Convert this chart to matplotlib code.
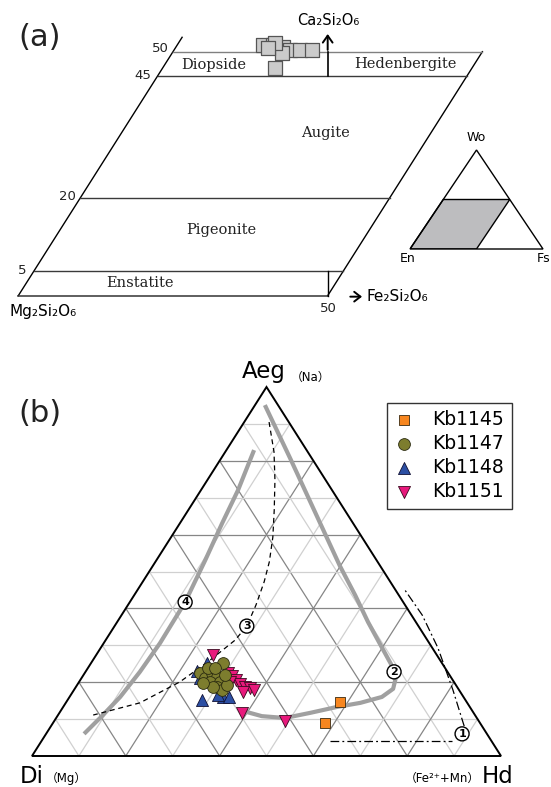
import matplotlib
matplotlib.use("Agg")
import matplotlib.pyplot as plt
from matplotlib.patches import Polygon
import numpy as np

plt.rcParams["font.family"] = ["DejaVu Sans", "Noto Sans CJK SC"]

W, H = 551, 787

# ---------------- (a) pyroxene quadrilateral ----------------
# Wo (mol%) and Fs (mol%) of the analysed pyroxenes
quad_wo = [51.4, 51.4, 51.0, 50.4, 50.4, 50.4, 49.7, 51.8, 50.8, 46.7]
quad_fs = [13.9, 15.5, 17.3, 18.7, 20.4, 22.3, 17.8, 15.6, 15.0, 18.2]
wo_levels = [5, 20, 45, 50]
fs_max = 50

# ---------------- (b) Aeg-Di-Hd ternary (mol%) ----------------
kb1145_aeg = [14.6, 8.9]
kb1145_hd = [58.4, 58.0]

kb1147_aeg = [25.2, 22.5, 21.1, 22.5, 21.4, 20.1, 20.1, 18.7, 17.9, 19.2, 18.7, 19.8, 23.8, 23.8, 22.0]
kb1147_hd = [28.1, 24.6, 26.4, 27.1, 28.7, 27.9, 30.0, 30.1, 31.6, 32.0, 29.3, 26.6, 25.6, 27.1, 30.2]

kb1148_aeg = [25.2, 15.2, 16.0, 16.5, 16.0, 23.0, 21.1]
kb1148_hd = [24.7, 28.6, 32.7, 31.4, 34.0, 23.7, 25.2]

kb1151_aeg = [27.4, 22.5, 21.7, 20.6, 19.5, 18.7, 18.4, 17.3, 17.9, 20.1, 11.7, 9.5]
kb1151_hd = [24.9, 30.6, 31.8, 33.2, 34.6, 36.1, 37.3, 36.4, 38.4, 32.2, 39.0, 49.2]

# reference trends (Aeg, Hd)
trend1_h_aeg = [4.1, 4.1]
trend1_h_hd = [61.5, 87.5]
trend1_v_aeg = [8.1, 17.9, 29.3, 38.2, 45.0]
trend1_v_hd = [88.1, 80.8, 71.9, 64.1, 57.0]

trend2_aeg = [95.1, 80.8, 66.1, 51.5, 43.6, 36.3, 29.3, 24.9, 21.1, 18.2, 16.0,
              14.4, 13.3, 11.7, 10.3, 10.8, 12.2]
trend2_hd = [2.1, 14.6, 27.3, 39.9, 47.1, 53.5, 60.0, 64.1, 67.0, 67.9, 66.6,
             62.8, 58.4, 53.5, 48.8, 43.6, 38.9]

trend3_aeg = [90.5, 82.4, 74.8, 66.7, 59.3, 52.6, 47.2, 40.9, 35.2, 31.4, 26.0, 20.1, 14.4, 11.1]
trend3_hd = [5.3, 10.4, 14.4, 18.3, 21.7, 24.3, 25.9, 27.3, 28.2, 27.6, 25.0, 21.5, 15.8, 7.5]

trend4_aeg = [6.0, 10.8, 16.0, 22.8, 30.6, 41.7, 53.1, 63.1, 72.1, 82.9]
trend4_hd = [8.1, 9.5, 10.8, 11.6, 12.0, 11.8, 10.4, 9.0, 7.9, 5.9]

trend_labels = ["1", "2", "3", "4"]
trend_label_aeg = [6.0, 22.8, 35.2, 41.7]
trend_label_hd = [88.7, 65.8, 28.2, 11.8]

fig = plt.figure(figsize=(W / 100, H / 100), dpi=100)


def fpos(x, y):
    return x / W, 1 - y / H


# ======== panel (a) ========
ax_a = fig.add_axes([0, 1 - 330 / H, 1, 330 / H])
ax_a.set_xlim(-2.957, 86.09)
ax_a.set_ylim(-7.03, 60.59)
ax_a.axis("off")


def quad(fs, wo):
    fs = np.asarray(fs, float)
    wo = np.asarray(wo, float)
    return fs + wo / 2, wo


# outline sides
x, y = quad([0, 0], [0, 52.95])
ax_a.plot(x, y, color="black", lw=1.0)
x, y = quad([fs_max, fs_max], [0, 50])
ax_a.plot(x, y, color="black", lw=1.0)
x, y = quad([0, fs_max], [0, 0])
ax_a.plot(x, y, color="#333333", lw=1.1)
for lv in wo_levels:
    x, y = quad([0, fs_max], [lv, lv])
    ax_a.plot(x, y, color="#808080" if lv == 50 else "#3a3a3a", lw=1.0)

# field dividers and the Ca2Si2O6 arrow
ax_a.plot([50, 50], [0, 5], color="black", lw=1.0)
ax_a.plot([50, 50], [45, 50], color="black", lw=1.2)
ax_a.annotate("", xy=(50, 54.2), xytext=(50, 49.8),
              arrowprops=dict(arrowstyle="->,head_width=0.35,head_length=0.5", lw=1.4, color="black"))
ax_a.text(50.1, 56.3, "Ca₂Si₂O₆", ha="center", va="center", fontsize=10.5)
ax_a.annotate("", xy=(56.0, -0.2), xytext=(53.2, -0.2),
              arrowprops=dict(arrowstyle="->,head_width=0.35,head_length=0.45", lw=1.4, color="black"))
ax_a.text(56.2, -0.2, "Fe₂Si₂O₆", ha="left", va="center", fontsize=11)
ax_a.text(-1.4, -3.2, "Mg₂Si₂O₆", ha="left", va="center", fontsize=11)

# axis numbers
for txt, xx, yy in [("50", 22.98, 50.7), ("45", 20.2, 45.1), ("20", 7.92, 20.3),
                    ("5", 0.55, 5.1), ("50", 50.1, -2.55)]:
    ax_a.text(xx, yy, txt, ha="center", va="center", fontsize=9.5, color="#222222")

# field names
serif = dict(family="DejaVu Serif", fontsize=10.5, ha="center", va="center", color="#222222")
ax_a.text(31.55, 47.3, "Diopside", **serif)
ax_a.text(62.5, 47.5, "Hedenbergite", **serif)
ax_a.text(49.6, 33.3, "Augite", **serif)
ax_a.text(32.8, 13.5, "Pigeonite", **serif)
ax_a.text(19.6, 2.6, "Enstatite", **serif)

x, y = quad(quad_fs, quad_wo)
ax_a.scatter(x, y, marker="s", s=115, facecolor="#cbcbcb", edgecolor="#555555",
             linewidth=0.9, zorder=5)

# inset Wo-En-Fs triangle
ax_i = fig.add_axes([410 / W, 1 - 249 / H, 133 / W, 99 / H])
ax_i.set_xlim(0, 1)
ax_i.set_ylim(0, 1)
ax_i.axis("off")
ax_i.add_patch(Polygon([[0, 0], [0.5, 0], [0.75, 0.5], [0.25, 0.5]], closed=True,
                       facecolor="#bdbdbf", edgecolor="black", lw=1.0, zorder=1))
ax_i.add_patch(Polygon([[0, 0], [1, 0], [0.5, 1]], closed=True, fill=False,
                       edgecolor="black", lw=1.0, zorder=2, clip_on=False))
ax_i.text(-0.015, -0.10, "En", ha="center", va="center", fontsize=9, clip_on=False)
ax_i.text(1.053, -0.10, "Fs", ha="right", va="center", fontsize=9, clip_on=False)
ax_i.text(0.5, 1.13, "Wo", ha="center", va="center", fontsize=9, clip_on=False)

fig.text(*fpos(40, 37), "(a)", ha="center", va="center", fontsize=22, color="#222222")

# ======== panel (b) ========
ax_b = fig.add_axes([32 / W, 1 - 756 / H, 469 / W, 369 / H])
ax_b.set_xlim(0, 1)
ax_b.set_ylim(0, 1)
ax_b.axis("off")


def tern(aeg, hd):
    a = np.asarray(aeg, float) / 100
    h = np.asarray(hd, float) / 100
    return h + a / 2, a


# grid
for k in range(1, 10):
    t = k / 10
    col = "#868686" if k % 2 == 0 else "#d0d0d0"
    ax_b.plot([t / 2, 1 - t / 2], [t, t], color=col, lw=0.9, zorder=1)
    ax_b.plot([t, (1 + t) / 2], [0, 1 - t], color=col, lw=0.9, zorder=1)
    ax_b.plot([1 - t, (1 - t) / 2], [0, 1 - t], color=col, lw=0.9, zorder=1)
ax_b.add_patch(Polygon([[0, 0], [1, 0], [0.5, 1]], closed=True, fill=False,
                       edgecolor="black", lw=1.4, zorder=2, clip_on=False))

# trends
x, y = tern(trend2_aeg, trend2_hd)
ax_b.plot(x, y, color="#a0a0a0", lw=3, solid_capstyle="butt", solid_joinstyle="round", zorder=3)
x, y = tern(trend4_aeg, trend4_hd)
ax_b.plot(x, y, color="#a0a0a0", lw=3, solid_capstyle="butt", solid_joinstyle="round", zorder=3)
x, y = tern(trend3_aeg, trend3_hd)
ax_b.plot(x, y, color="black", lw=0.9, dashes=(4, 3), zorder=3)
x, y = tern(trend1_h_aeg, trend1_h_hd)
ax_b.plot(x, y, color="black", lw=0.9, dashes=(7, 2.5, 1.5, 2.5), zorder=3)
x, y = tern(trend1_v_aeg, trend1_v_hd)
ax_b.plot(x, y, color="black", lw=0.9, dashes=(7, 2.5, 1.5, 2.5), zorder=3)

x, y = tern(trend_label_aeg, trend_label_hd)
for lab, xx, yy in zip(trend_labels, x, y):
    ax_b.text(xx, yy, lab, ha="center", va="center", fontsize=8, fontweight="bold", zorder=7,
              bbox=dict(boxstyle="circle,pad=0.18", facecolor="white", edgecolor="black", lw=1.0))

# samples
handles = []
x, y = tern(kb1145_aeg, kb1145_hd)
handles.append(ax_b.scatter(x, y, marker="s", s=48, facecolor="#f7861f", edgecolor="#3a2a10",
                            linewidth=0.6, zorder=5, label="Kb1145"))
x, y = tern(kb1148_aeg, kb1148_hd)
h1148 = ax_b.scatter(x, y, marker="^", s=75, facecolor="#2c4fa3", edgecolor="#111133",
                     linewidth=0.6, zorder=5, label="Kb1148")
x, y = tern(kb1151_aeg, kb1151_hd)
h1151 = ax_b.scatter(x, y, marker="v", s=75, facecolor="#e8197c", edgecolor="#3a0a20",
                     linewidth=0.6, zorder=5, label="Kb1151")
x, y = tern(kb1147_aeg, kb1147_hd)
h1147 = ax_b.scatter(x, y, marker="o", s=72, facecolor="#7d7d2e", edgecolor="#2a2a10",
                     linewidth=0.6, zorder=6, label="Kb1147")
handles += [h1147, h1148, h1151]

leg = fig.legend(handles=handles, loc="upper left", bbox_to_anchor=fpos(387.3, 402.7),
                 bbox_transform=fig.transFigure, fontsize=13.5, frameon=True, fancybox=False,
                 borderpad=0.4, handlelength=1.0, handletextpad=1.0, labelspacing=0.27,
                 borderaxespad=0.0, scatterpoints=1)
leg.get_frame().set_edgecolor("black")
leg.get_frame().set_linewidth(1.0)

# vertex labels
ax_b.text(0.4478, 1.0244, "Aeg", ha="left", va="baseline", fontsize=16.5, clip_on=False)
ax_b.text(0.552, 1.017, "（Na）", ha="left", va="baseline", fontsize=8.5, clip_on=False)
ax_b.text(-0.0256, -0.0732, "Di", ha="left", va="baseline", fontsize=16.5, clip_on=False)
ax_b.text(0.030, -0.070, "（Mg）", ha="left", va="baseline", fontsize=8.5, clip_on=False)
ax_b.text(0.9589, -0.0732, "Hd", ha="left", va="baseline", fontsize=16.5, clip_on=False)
ax_b.text(0.955, -0.070, "（Fe²⁺+Mn）", ha="right", va="baseline", fontsize=8.5, clip_on=False)

fig.text(*fpos(40, 414), "(b)", ha="center", va="center", fontsize=22, color="#222222")

fig.savefig("out.png", dpi=100)
